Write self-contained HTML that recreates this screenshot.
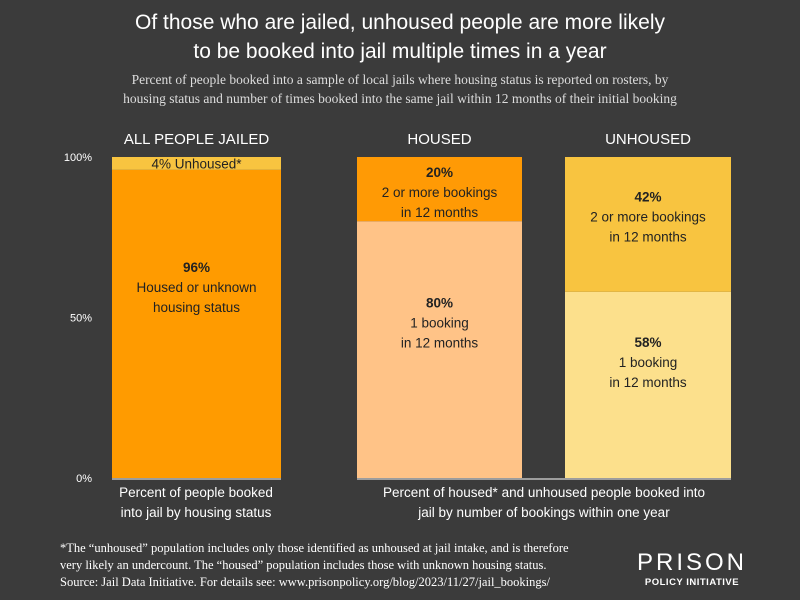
<!DOCTYPE html>
<html><head><meta charset="utf-8"><style>
body{margin:0;width:800px;height:600px;background:#3b3b3b;overflow:hidden;font-family:"Liberation Sans",sans-serif;color:#fff}
.t{position:absolute;left:0;width:800px;text-align:center}
</style></head><body>
<div class="t" style="top:8px;font-size:21px;line-height:29px">Of those who are jailed, unhoused people are more likely<br>to be booked into jail multiple times in a year</div>
<div class="t" style="top:70px;font-family:'Liberation Serif',serif;font-size:13.5px;line-height:19px;color:#ddd">Percent of people booked into a sample of local jails where housing status is reported on rosters, by<br>housing status and number of times booked into the same jail within 12 months of their initial booking</div>
<svg id="c" width="800" height="600" style="position:absolute;left:0;top:0"></svg>
<div style="position:absolute;left:60px;top:540px;font-family:'Liberation Serif',serif;font-size:12.5px;line-height:17px;color:#fff">*The “unhoused” population includes only those identified as unhoused at jail intake, and is therefore<br>very likely an undercount. The “housed” population includes those with unknown housing status.<br>Source: Jail Data Initiative. For details see: www.prisonpolicy.org/blog/2023/11/27/jail_bookings/</div>
<div style="position:absolute;left:632px;top:550px;text-align:center;width:120px;white-space:nowrap">
<div style="font-size:24px;letter-spacing:3px;line-height:26px">PRISON</div>
<div style="font-size:9.5px;font-weight:bold;letter-spacing:0.5px;line-height:14px">POLICY INITIATIVE</div></div>
<script>
const groups=["ALL PEOPLE JAILED","HOUSED","UNHOUSED"];
const bottomVals=[96,80,58];
const topVals=[4,20,42];
const bottomLabels=[["96%","Housed or unknown","housing status"],["80%","1 booking","in 12 months"],["58%","1 booking","in 12 months"]];
const topLabels=[["4% Unhoused*"],["20%","2 or more bookings","in 12 months"],["42%","2 or more bookings","in 12 months"]];
const ticks=[0,50,100];
const svg=document.getElementById('c');const NS='http://www.w3.org/2000/svg';
const y0=478,y1=157;const y=v=>y0-(y0-y1)*v/100;
const bx=[112,357,565],bw=[169,165,166];
const botCol=["#ff9b00","#ffc387","#fce08c"],topCol=["#f8c440","#ff9a05","#f8c440"];
const botOff=[-37,-27,-23],topOff=[0,3,-8];
function el(t,a,p){const e=document.createElementNS(NS,t);for(const k in a)e.setAttribute(k,a[k]);(p||svg).appendChild(e);return e;}
ticks.forEach(t=>{const e=el('text',{x:92,y:y(t)+4,'text-anchor':'end','font-size':11,fill:'#fff'});e.textContent=t+'%';

});
groups.forEach((g,i)=>{
 const cx=bx[i]+bw[i]/2;
 const h=el('text',{x:cx,y:144,'text-anchor':'middle','font-size':15,fill:'#fff'});h.textContent=g;
 
 
 const b=el('rect',{x:bx[i],y:y(bottomVals[i]),width:bw[i],height:y0-y(bottomVals[i]),fill:botCol[i]});
 
 
 const tp=el('rect',{x:bx[i],y:y(bottomVals[i]+topVals[i]),width:bw[i],height:y(bottomVals[i])-y(bottomVals[i]+topVals[i]),fill:topCol[i]});
 
 
 function lab(lines,mid,nm){const n=lines.length;lines.forEach((l,j)=>{const e=el('text',{x:cx,y:mid+(j-(n-1)/2)*20+5,'text-anchor':'middle','font-size':13.5,fill:'#222','font-weight':(j==0&&n>1)?'bold':'normal'});e.textContent=l;
 
 });}
 lab(bottomLabels[i],(y(bottomVals[i])+y0)/2+botOff[i],'bar-label-bottom');
 lab(topLabels[i],(y(bottomVals[i])+y(bottomVals[i]+topVals[i]))/2+topOff[i],'bar-label-top');
});
el('line',{x1:112,x2:281,y1:y0+1,y2:y0+1,stroke:'#fff','stroke-width':1});
el('line',{x1:357,x2:731,y1:y0+1,y2:y0+1,stroke:'#fff','stroke-width':1});
[["Percent of people booked","into jail by housing status",196],["Percent of housed* and unhoused people booked into","jail by number of bookings within one year",544]].forEach(a=>{
 [0,1].forEach(j=>{const e=el('text',{x:a[2],y:497+j*20,'text-anchor':'middle','font-size':13.5,fill:'#fff'});e.textContent=a[j];
 
 });});
</script>
</body></html>
